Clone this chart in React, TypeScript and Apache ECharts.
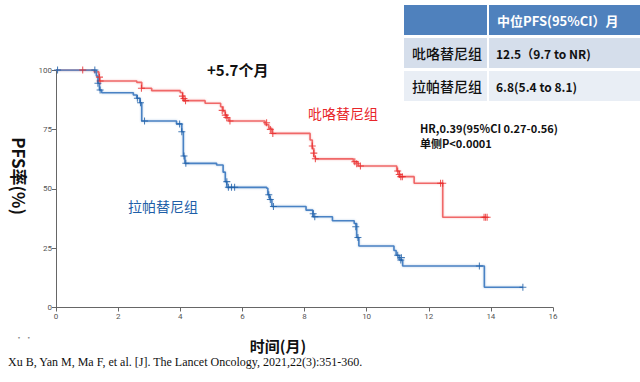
import React, { useEffect, useRef } from "react";
import * as echarts from "echarts";

// Kaplan-Meier steps: [month, PFS %]
const pyrotinibSteps: number[][] = [
  [0, 100], [1.23, 99.2], [1.38, 95.4], [2.6, 94.8], [2.76, 92.3], [3.08, 91.3],
  [4.0, 90.5], [4.08, 88.0], [4.12, 87.1], [4.8, 86.0], [5.3, 84.5], [5.38, 82.5],
  [5.45, 81.0], [5.5, 79.8], [5.56, 78.5], [6.73, 77.0], [6.85, 75.5], [6.95, 73.3],
  [8.18, 70.5], [8.25, 67.0], [8.3, 63.5], [8.35, 62.6], [9.57, 61.4], [9.73, 59.6],
  [10.97, 57.5], [11.05, 55.1], [11.53, 52.3], [12.45, 38.0], [13.83, 38.0],
];
const lapatinibSteps: number[][] = [
  [0, 100], [1.3, 97.5], [1.35, 94.4], [1.4, 91.6], [1.47, 90.4], [2.49, 89.5],
  [2.6, 88.1], [2.7, 86.2], [2.76, 78.5], [3.88, 77.3], [4.05, 74.0], [4.1, 63.8],
  [4.15, 60.7], [5.17, 60.0], [5.38, 57.0], [5.45, 53.0], [5.5, 50.6], [6.78, 50.2],
  [6.82, 47.5], [6.88, 45.5], [6.95, 42.5], [8.05, 41.0], [8.27, 38.2], [8.9, 36.5],
  [9.6, 35.4], [9.68, 29.5], [9.75, 25.9], [10.88, 24.0], [10.95, 22.0], [11.05, 20.0],
  [11.16, 17.5], [13.79, 8.5], [15.03, 8.5],
];
// Censoring marks: [month, PFS %]
const pyrotinibCensors: number[][] = [
  [0.86, 100], [1.4, 97.0], [1.42, 95.4], [2.75, 92.3], [4.07, 89.0], [4.12, 88.0],
  [4.17, 87.1], [5.35, 83.0], [5.45, 81.0], [5.5, 80.0], [5.6, 78.5], [6.78, 77.8],
  [6.9, 75.0], [6.98, 73.3], [8.25, 68.0], [8.3, 65.0], [8.35, 62.6], [9.62, 61.4],
  [9.68, 60.5], [9.8, 59.6], [11.0, 57.5], [11.05, 56.0], [11.1, 55.1], [11.15, 55.1],
  [12.38, 52.3], [12.45, 52.3], [13.78, 38.0], [13.83, 38.0], [13.88, 38.0],
];
const lapatinibCensors: number[][] = [
  [0.05, 100], [1.25, 100], [1.35, 94.4], [1.42, 91.6], [2.62, 88.1], [2.72, 86.2],
  [2.85, 78.5], [3.98, 77.3], [4.05, 74.0], [4.12, 63.8], [4.18, 60.7], [5.5, 53.0],
  [5.55, 50.6], [5.65, 50.6], [5.75, 50.6], [6.85, 47.5], [6.9, 45.5], [7.0, 42.5],
  [8.28, 39.5], [8.33, 38.2], [9.65, 34.0], [9.72, 29.5], [11.0, 22.0], [11.1, 20.0],
  [11.12, 21.0], [13.63, 17.5], [15.03, 8.5],
];

const xTicks = [0, 2, 4, 6, 8, 10, 12, 14, 16];
const yTicks = [0, 25, 50, 75, 100];

const tableHeader = ["", "中位PFS(95%CI）月"];
const tableRows: string[][] = [
  ["吡咯替尼组", "12.5（9.7 to NR)"],
  ["拉帕替尼组", "6.8(5.4 to 8.1)"],
];

const RED_LINE = "#f06868";
const RED_MARK = "#e82a2a";
const BLUE_LINE = "#4a82c4";
const BLUE_MARK = "#1d5ea6";
const CJK = "'Noto Sans CJK SC', 'Noto Sans', sans-serif";
const PLUS = "path://M-0.6,-4 h1.2 v3.4 h3.4 v1.2 h-3.4 v3.4 h-1.2 v-3.4 h-3.4 v-1.2 h3.4 z";

export default function App() {
  const ref = useRef<HTMLDivElement>(null);
  useEffect(() => {
    if (!ref.current) return;
    const chart = echarts.init(ref.current, undefined, { renderer: "svg" });
    const rowTops = [38, 71];
    const rowColors = ["#d5deeb", "#e9eef5"];
    const graphic: any[] = [
      { type: "rect", shape: { x: 404, y: 5, width: 83, height: 30 }, style: { fill: "#4f81bd" } },
      { type: "rect", shape: { x: 489, y: 5, width: 151, height: 30 }, style: { fill: "#4f81bd" } },
      {
        type: "text", x: 497, y: 20,
        style: { text: tableHeader[1], fill: "#ffffff", font: `bold 13px ${CJK}`, verticalAlign: "middle" },
      },
    ];
    tableRows.forEach((row, i) => {
      graphic.push({ type: "rect", shape: { x: 404, y: rowTops[i], width: 83, height: 30 }, style: { fill: rowColors[i] } });
      graphic.push({ type: "rect", shape: { x: 489, y: rowTops[i], width: 151, height: 30 }, style: { fill: rowColors[i] } });
      graphic.push({
        type: "text", x: 412, y: rowTops[i] + 15,
        style: { text: row[0], fill: "#111", font: `500 14px ${CJK}`, verticalAlign: "middle" },
      });
      graphic.push({
        type: "text", x: 496, y: rowTops[i] + 15,
        style: { text: row[1], fill: "#111", font: `bold 12px ${CJK}`, verticalAlign: "middle" },
      });
    });
    graphic.push(
      { type: "text", x: 207, y: 69, style: { text: "+5.7个月", fill: "#111", font: `bold 15px ${CJK}`, verticalAlign: "middle" } },
      { type: "text", x: 308, y: 113, style: { text: "吡咯替尼组", fill: "#e8262a", font: `14px ${CJK}`, verticalAlign: "middle" } },
      { type: "text", x: 128, y: 206, style: { text: "拉帕替尼组", fill: "#1f5fa8", font: `14px ${CJK}`, verticalAlign: "middle" } },
      { type: "text", x: 420, y: 128, style: { text: "HR,0.39(95%CI 0.27-0.56)", fill: "#111", font: `bold 11px ${CJK}`, verticalAlign: "middle" } },
      { type: "text", x: 420, y: 143, style: { text: "单侧P<0.0001", fill: "#111", font: `bold 11px ${CJK}`, verticalAlign: "middle" } },
      {
        type: "text", x: 19, y: 176, rotation: -Math.PI / 2,
        style: { text: "PFS率(%)", fill: "#111", font: `bold 17px ${CJK}`, align: "center", verticalAlign: "middle" },
      },
      { type: "text", x: 278, y: 345, style: { text: "时间(月)", fill: "#111", font: `bold 15px ${CJK}`, align: "center", verticalAlign: "middle" } },
      { type: "text", x: 15, y: 337, style: { text: "· ·", fill: "#888", font: `8px ${CJK}`, verticalAlign: "middle" } },
      {
        type: "text", x: 8, y: 362,
        style: {
          text: "Xu B, Yan M, Ma F, et al. [J]. The Lancet Oncology, 2021,22(3):351-360.",
          fill: "#111", font: "12px 'Liberation Serif', serif", verticalAlign: "middle",
        },
      }
    );

    chart.setOption({
      animation: false,
      backgroundColor: "#ffffff",
      grid: { left: 56, right: 87, top: 70, bottom: 74.5 },
      xAxis: {
        type: "value", min: 0, max: 16, interval: 2,
        axisLine: { show: true, lineStyle: { color: "#666", width: 1 } },
        axisTick: { show: true, length: 4, lineStyle: { color: "#666" } },
        axisLabel: { color: "#555", fontSize: 8, margin: 5, fontFamily: "Roboto, sans-serif",
          formatter: (v: number) => (xTicks.includes(v) ? String(v) : "") },
        splitLine: { show: false },
      },
      yAxis: {
        type: "value", min: 0, max: 100, interval: 25,
        axisLine: { show: true, lineStyle: { color: "#666", width: 1 } },
        axisTick: { show: true, length: 4, lineStyle: { color: "#666" } },
        axisLabel: { color: "#555", fontSize: 8, margin: 4, fontFamily: "Roboto, sans-serif",
          formatter: (v: number) => (yTicks.includes(v) ? String(v) : "") },
        splitLine: { show: false },
      },
      series: [
        {
          type: "line", step: "end", data: pyrotinibSteps, showSymbol: false, symbol: "none",
          lineStyle: { color: RED_LINE, width: 1.6, shadowColor: "rgba(240,104,104,0.4)", shadowBlur: 2 },
          z: 2,
        },
        {
          type: "line", step: "end", data: lapatinibSteps, showSymbol: false, symbol: "none",
          lineStyle: { color: BLUE_LINE, width: 1.6, shadowColor: "rgba(74,130,196,0.4)", shadowBlur: 2 },
          z: 3,
        },
        {
          type: "scatter", data: pyrotinibCensors, symbol: PLUS, symbolSize: 7,
          itemStyle: { color: RED_MARK }, z: 4,
        },
        {
          type: "scatter", data: lapatinibCensors, symbol: PLUS, symbolSize: 7,
          itemStyle: { color: BLUE_MARK }, z: 5,
        },
      ],
      graphic,
    });
    return () => chart.dispose();
  }, []);
  return <div ref={ref} style={{ position: "fixed", left: 0, top: 0, width: 640, height: 382 }} />;
}
